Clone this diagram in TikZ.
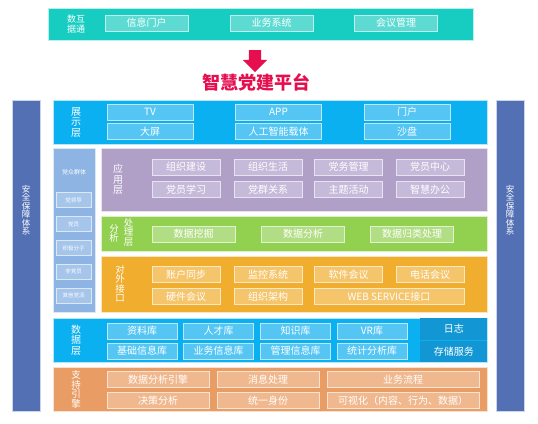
\documentclass[tikz,border=0pt]{standalone}
\usepackage{fontspec}
\setmainfont{Noto Sans CJK SC}
\usepackage{xcolor}
\usepackage{tikz}
\usetikzlibrary{shapes.arrows, positioning}
\definecolor{tealbar}{HTML}{17CDC1}
\definecolor{tealcell}{HTML}{5DDBD3}
\definecolor{bluebar}{HTML}{0BB0F0}
\definecolor{bluecell}{HTML}{55C6F4}
\definecolor{crowdbar}{HTML}{8DB4E2}
\definecolor{crowdcell}{HTML}{A6C5EB}
\definecolor{purpbar}{HTML}{B09FC6}
\definecolor{purpcell}{HTML}{C6BADA}
\definecolor{greenbar}{HTML}{92D050}
\definecolor{greencell}{HTML}{B1DE84}
\definecolor{orangebar}{HTML}{F0AD2E}
\definecolor{orangecell}{HTML}{F5C56B}
\definecolor{datadark}{HTML}{1297D4}
\definecolor{enginebar}{HTML}{E99C63}
\definecolor{enginecell}{HTML}{F0B88E}
\definecolor{secbar}{HTML}{5470B5}
\definecolor{titlered}{HTML}{E50F50}

\begin{document}
\begin{tikzpicture}[
    x=1pt, y=-1pt,
    layer/.style={rectangle, anchor=north west, inner sep=0, draw=white!70!#1, line width=0.6pt, fill=#1},
    cell/.style={rectangle, minimum width=68, minimum height=16, inner sep=0, fill=#1, draw=white!60!#1, line width=0.8pt, text=white, font=\fontsize{10}{12}\selectfont},
    vlab/.style={inner sep=0, text=white, align=center, font=\fontsize{10}{10.5}\selectfont},
    tiny/.style={rectangle, minimum width=35, minimum height=15, inner sep=0, fill=crowdcell, draw=white!60!crowdcell, line width=0.8pt, text=white, font=\fontsize{5.5}{6}\selectfont},
]
    \useasboundingbox (0,0) rectangle (538,423);

    \node[layer=tealbar, minimum width=425, minimum height=32] (hub) at (48,8) {};
    \node[vlab, font=\fontsize{9}{9.5}\selectfont] (hublab) at (76,24) {数互\\据通};
    \node[cell=tealcell, minimum width=83] (hub1) at (146.5,23) {信息门户};
    \node[cell=tealcell, minimum width=83] (hub2) at (271.5,23) {业务系统};
    \node[cell=tealcell, minimum width=83] (hub3) at (396,23) {会议管理};

    \node[single arrow, shape border rotate=270, fill=titlered, minimum height=22, inner sep=6pt,
        single arrow head extend=6pt, single arrow head indent=0pt] (down) at (255,58) {};
    \node[text=titlered, font=\fontsize{18}{20}\selectfont\bfseries] (title) at (256,82) {智慧党建平台};

    \node[layer=secbar, minimum width=28, minimum height=311] (secl) at (12,100) {};
    \node[layer=secbar, minimum width=28, minimum height=311] (secr) at (496,100) {};
    \node[vlab, font=\fontsize{8.5}{8.5}\selectfont] (secllab) at (26,210) {安\\全\\保\\障\\体\\系};
    \node[vlab, font=\fontsize{8.5}{8.5}\selectfont] (secrlab) at (510,210) {安\\全\\保\\障\\体\\系};

    \node[layer=bluebar, minimum width=434, minimum height=44] (show) at (53,100) {};
    \node[vlab] (showlab) at (76,122) {展\\示\\层};
    \node[cell=bluecell, minimum width=86] (tv) at (150,112) {TV};
    \node[cell=bluecell, minimum width=86] (screen) at (150,131.5) {大屏};
    \node[cell=bluecell, minimum width=86] (appc) at (278.5,112) {APP};
    \node[cell=bluecell, minimum width=86] (ai) at (278.5,131.5) {人工智能载体};
    \node[cell=bluecell, minimum width=86] (portal) at (407,112) {门户};
    \node[cell=bluecell, minimum width=86] (sand) at (407,131.5) {沙盘};

    \node[layer=crowdbar, minimum width=42, minimum height=164] (crowd) at (53,148) {};
    \node[inner sep=0, text=white, font=\fontsize{6}{7}\selectfont] (crowdlab) at (74,172) {党众群体};
    \node[tiny] (c1) at (73.5,200) {党领导};
    \node[tiny] (c2) at (73.5,224) {党员};
    \node[tiny] (c3) at (73.5,248) {积极分子};
    \node[tiny] (c4) at (73.5,271.5) {非党员};
    \node[tiny] (c5) at (73.5,295.5) {其他党派};

    \node[layer=purpbar, minimum width=386, minimum height=63] (app) at (101,148) {};
    \node[vlab] (applab) at (118,179.5) {应\\用\\层};
    \node[cell=purpcell] (a1) at (186,167) {组织建设};
    \node[cell=purpcell] (a2) at (268,167) {组织生活};
    \node[cell=purpcell] (a3) at (348.5,167) {党务管理};
    \node[cell=purpcell] (a4) at (430,167) {党员中心};
    \node[cell=purpcell] (a5) at (186,189.5) {党员学习};
    \node[cell=purpcell] (a6) at (268,189.5) {党群关系};
    \node[cell=purpcell] (a7) at (348.5,189.5) {主题活动};
    \node[cell=purpcell] (a8) at (430,189.5) {智慧办公};

    \node[layer=greenbar, minimum width=386, minimum height=35] (ana) at (101,216) {};
    \node[vlab, font=\fontsize{9.5}{9.5}\selectfont] (analab1) at (114,233.5) {分\\析};
    \node[vlab, font=\fontsize{9.5}{9.5}\selectfont] (analab2) at (128.5,232) {处\\理\\层};
    \node[cell=greencell, minimum width=83] (n1) at (193.5,234) {数据挖掘};
    \node[cell=greencell, minimum width=83] (n2) at (303,234) {数据分析};
    \node[cell=greencell, minimum width=83] (n3) at (412,234) {数据归类处理};

    \node[layer=orangebar, minimum width=386, minimum height=56] (api) at (101,256) {};
    \node[vlab, font=\fontsize{9.5}{9.5}\selectfont] (apilab) at (120,284) {对\\外\\接\\口};
    \node[cell=orangecell] (i1) at (186,274.5) {账户同步};
    \node[cell=orangecell] (i2) at (268,274.5) {监控系统};
    \node[cell=orangecell] (i3) at (348.5,274.5) {软件会议};
    \node[cell=orangecell] (i4) at (430,274.5) {电话会议};
    \node[cell=orangecell] (i5) at (186,296.5) {硬件会议};
    \node[cell=orangecell] (i6) at (268,296.5) {组织架构};
    \node[cell=orangecell, minimum width=150] (i7) at (389,296.5) {WEB SERVICE接口};

    \node[layer=bluebar, minimum width=434, minimum height=44] (data) at (53,318) {};
    \node[layer=datadark, draw=none, minimum width=67, minimum height=21.5] (log) at (420,318) {};
    \node[layer=datadark, draw=none, minimum width=67, minimum height=21.5] (store) at (420,340.5) {};
    \node[text=white, inner sep=0, font=\fontsize{10}{12}\selectfont] at (log.center) {日志};
    \node[text=white, inner sep=0, font=\fontsize{10}{12}\selectfont] at (store.center) {存储服务};
    \node[vlab] (datalab) at (76,340) {数\\据\\层};
    \node[cell=bluecell, minimum width=70] (d1) at (142,331) {资料库};
    \node[cell=bluecell, minimum width=70] (d2) at (218.5,331) {人才库};
    \node[cell=bluecell, minimum width=70] (d3) at (295.5,331) {知识库};
    \node[cell=bluecell, minimum width=70] (d4) at (372,331) {VR库};
    \node[cell=bluecell, minimum width=70] (d5) at (142,351) {基础信息库};
    \node[cell=bluecell, minimum width=70] (d6) at (218.5,351) {业务信息库};
    \node[cell=bluecell, minimum width=70] (d7) at (295.5,351) {管理信息库};
    \node[cell=bluecell, minimum width=70] (d8) at (372,351) {统计分析库};

    \node[layer=enginebar, minimum width=434, minimum height=44] (eng) at (53,367) {};
    \node[vlab, font=\fontsize{9.5}{9.5}\selectfont] (englab) at (76,389.5) {支\\持\\引\\擎};
    \node[cell=enginecell, minimum width=102] (e1) at (158,379.5) {数据分析引擎};
    \node[cell=enginecell, minimum width=102] (e2) at (268,379.5) {消息处理};
    \node[cell=enginecell, minimum width=152] (e3) at (403,379.5) {业务流程};
    \node[cell=enginecell, minimum width=102] (e4) at (158,400.5) {决策分析};
    \node[cell=enginecell, minimum width=102] (e5) at (268,400.5) {统一身份};
    \node[cell=enginecell, minimum width=152] (e6) at (403,400.5) {可视化（内容、行为、数据）};
\end{tikzpicture}
\end{document}
